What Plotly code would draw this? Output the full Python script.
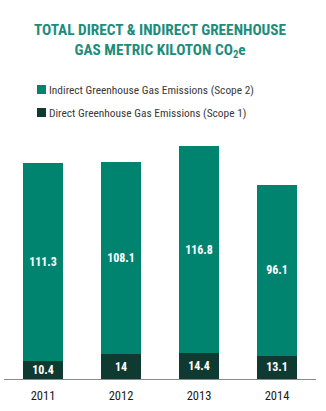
import plotly.graph_objects as go

years = ["2011", "2012", "2013", "2014"]
direct_scope1 = [10.4, 14, 14.4, 13.1]
indirect_scope2 = [111.3, 108.1, 116.8, 96.1]
series_names = ["Indirect Greenhouse Gas Emissions (Scope 2)",
                "Direct Greenhouse Gas Emissions (Scope 1)"]

FONT = "Roboto Condensed, Arial Narrow, sans-serif"
TEAL = "#01846f"
DARK = "#0e3a32"
TITLE_CLR = "#1e8c7b"

W, H = 326, 411
M = dict(l=4, r=10, t=130, b=32)
PW, PH = W - M["l"] - M["r"], H - M["t"] - M["b"]


def px_x(px):
    """Pixel column -> paper x."""
    return (px - M["l"]) / PW


def px_y(py):
    """Pixel row (from top) -> paper y."""
    return (H - M["b"] - py) / PH


fig = go.Figure()
fig.add_trace(go.Bar(
    x=years, y=direct_scope1, name=series_names[1],
    marker=dict(color=DARK, line=dict(width=0)),
    text=[f"{v:g}" for v in direct_scope1], textposition="inside",
    insidetextanchor="middle", textangle=0,
    textfont=dict(family=FONT, size=12, color="white", weight="bold"),
))
fig.add_trace(go.Bar(
    x=years, y=indirect_scope2, name=series_names[0],
    marker=dict(color=TEAL, line=dict(width=0)),
    text=[f"{v:g}" for v in indirect_scope2], textposition="inside",
    insidetextanchor="middle", textangle=0,
    textfont=dict(family=FONT, size=12, color="white", weight="bold"),
))

# Legend drawn as colour swatches plus labels
legend_rows = [(series_names[0], TEAL, 89.5), (series_names[1], DARK, 112.5)]
shapes, annotations = [], []
for name, clr, cy in legend_rows:
    shapes.append(dict(type="rect", xref="paper", yref="paper",
                       x0=px_x(37), x1=px_x(46), y0=px_y(cy + 4.5), y1=px_y(cy - 4.5),
                       fillcolor=clr, line=dict(width=0)))
    annotations.append(dict(text=name, xref="paper", yref="paper",
                            x=px_x(47), y=px_y(cy), xanchor="left", yanchor="middle",
                            showarrow=False,
                            font=dict(family=FONT, size=11.4, color="#3a3a3a")))

annotations.append(dict(
    text="TOTAL DIRECT &amp; INDIRECT GREENHOUSE<br>GAS METRIC KILOTON CO<sub>2</sub>e",
    xref="paper", yref="paper", x=px_x(160), y=px_y(41),
    xanchor="center", yanchor="middle", showarrow=False,
    font=dict(family=FONT, size=15.3, color=TITLE_CLR, weight="bold"),
))

fig.update_layout(
    width=W, height=H, margin=M,
    paper_bgcolor="white", plot_bgcolor="white",
    barmode="stack", bargap=0.487,
    uniformtext=dict(minsize=12, mode="show"),
    showlegend=False,
    shapes=shapes, annotations=annotations,
    xaxis=dict(
        showline=True, linecolor="#8a8a8a", linewidth=1,
        ticks="", showgrid=False, ticklabelstandoff=5,
        tickfont=dict(family=FONT, size=12.5, color="#1a1a1a"),
    ),
    yaxis=dict(range=[0, 140], visible=False, showgrid=False),
)

fig.write_html("out.html")
